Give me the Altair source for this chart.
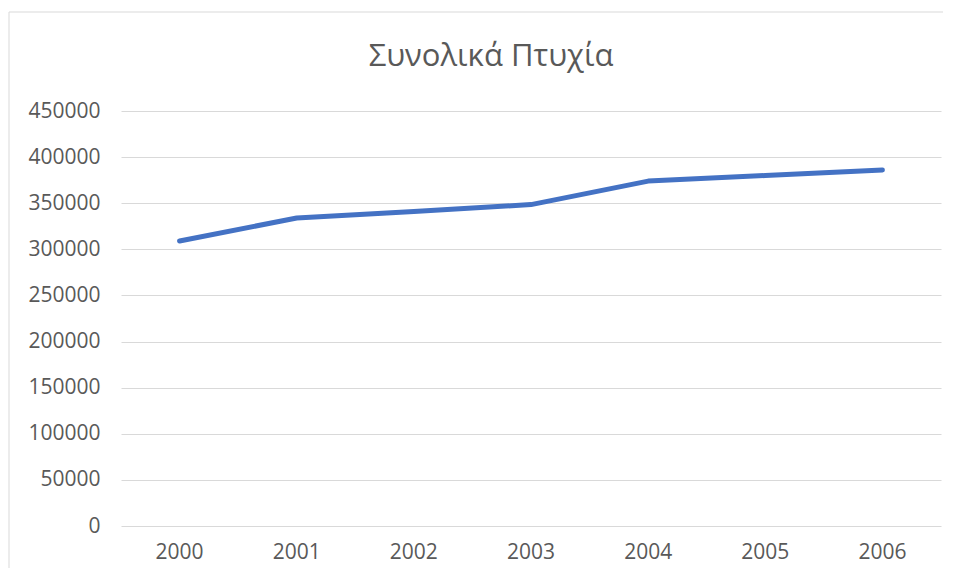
import altair as alt
import pandas as pd

TITLE = "Συνολικά Πτυχία"
years = ["2000", "2001", "2002", "2003", "2004", "2005", "2006"]
totals = [309000, 334000, 341000, 348500, 374000, 380000, 386000]
y_ticks = [0, 50000, 100000, 150000, 200000, 250000, 300000, 350000, 400000, 450000]

df = pd.DataFrame({"year": years, "total": totals})
FONT = "Open Sans"
GREY = "#595959"

line = alt.Chart(df).mark_line(color="#4472C4", strokeWidth=5, strokeCap="round", strokeJoin="round").encode(
    x=alt.X("year:O", sort=years, title=None,
            scale=alt.Scale(type="band", paddingInner=0, paddingOuter=0),
            axis=alt.Axis(labelAngle=0, ticks=False, domain=False, grid=False,
                          labelPadding=15, labelFont=FONT, labelFontSize=21, labelColor=GREY)),
    y=alt.Y("total:Q", title=None, scale=alt.Scale(domain=[0, 450000], nice=False),
            axis=alt.Axis(values=y_ticks, format="d", ticks=False, domain=False, grid=True,
                          gridColor="#d9d9d9", gridWidth=1, labelPadding=21,
                          labelFont=FONT, labelFontSize=21, labelColor=GREY)),
)

border = alt.Chart(pd.DataFrame({"b": [0]})).mark_rect(
    fill=None, stroke="#d9d9d9", strokeWidth=1
).encode(
    x=alt.value(-112), x2=alt.value(860), y=alt.value(-99), y2=alt.value(470)
)

title = alt.Chart(pd.DataFrame({"t": [TITLE]})).mark_text(
    font=FONT, fontSize=31, color=GREY, align="center", baseline="middle"
).encode(
    text="t:N", x=alt.value(370), y=alt.value(-54)
)

chart = alt.layer(border, line, title).properties(
    width=820, height=415,
    autosize=alt.AutoSizeParams(type="none"),
    padding={"left": 113, "top": 103, "right": 2, "bottom": 42},
).configure_view(stroke=None)

chart.save("out.html", embed_options={"renderer": "svg", "actions": False})
